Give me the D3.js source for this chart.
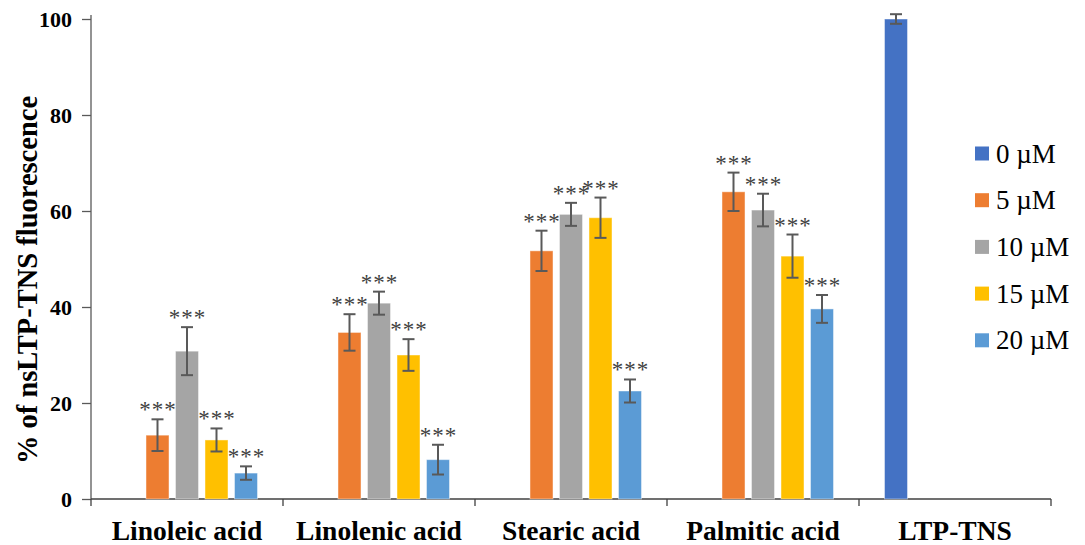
<!DOCTYPE html>
<html>
<head>
<meta charset="utf-8">
<script src="https://cdn.jsdelivr.net/npm/d3@7"></script>
<style>
  body { margin: 0; background: #fff; }
  text { font-family: "Liberation Serif", "Times New Roman", serif; }
</style>
</head>
<body>
<div id="chart"></div>
<script>
// data
var categories = ["Linoleic acid", "Linolenic acid", "Stearic acid", "Palmitic acid", "LTP-TNS"];
var series = ["0 \u00B5M", "5 \u00B5M", "10 \u00B5M", "15 \u00B5M", "20 \u00B5M"];
var colors = ["#4472C4", "#ED7D31", "#A5A5A5", "#FFC000", "#5B9BD5"];

// one row per category, one value per series (null = no bar)
var values = [
  [null, 13.3, 30.8, 12.3, 5.4],
  [null, 34.7, 40.8, 30.0, 8.2],
  [null, 51.7, 59.3, 58.6, 22.5],
  [null, 64.0, 60.2, 50.6, 39.6],
  [100, null, null, null, null]
];
var errors = [
  [null, 3.3, 5.0, 2.4, 1.4],
  [null, 3.8, 2.4, 3.3, 3.1],
  [null, 4.2, 2.4, 4.2, 2.4],
  [null, 4.0, 3.4, 4.5, 2.9],
  [1.0, null, null, null, null]
];
var stars = [
  [false, true, true, true, true],
  [false, true, true, true, true],
  [false, true, true, true, true],
  [false, true, true, true, true],
  [false, false, false, false, false]
];
var yTicks = [0, 20, 40, 60, 80, 100];

var W = 1085, H = 545;
var mLeft = 91, mRight = 1051, mTop = 19, mBottom = 499;

var svg = d3.select("#chart").append("svg")
  .attr("width", W)
  .attr("height", H);

var x0 = d3.scaleBand().domain(categories).range([mLeft, mRight]).padding(0);
var x1 = d3.scaleBand().domain(d3.range(series.length))
  .range([22.25, x0.bandwidth() - 22.25]).paddingInner(0.22).paddingOuter(0.11);
var y = d3.scaleLinear().domain([0, 100]).range([mBottom, mTop]);

// y axis
var yAxis = svg.append("g")
  .attr("transform", "translate(" + mLeft + ",0)")
  .call(d3.axisLeft(y).tickValues(yTicks).tickSize(9).tickPadding(10).tickSizeOuter(0));
yAxis.select(".domain").attr("stroke", "#595959").attr("stroke-width", 1.3)
  .attr("d", "M0," + mBottom + "V" + (mTop - 4));
yAxis.selectAll(".tick line").attr("stroke", "#595959").attr("stroke-width", 1.3);
yAxis.selectAll(".tick text")
  .attr("fill", "#000")
  .style("font-family", "'Liberation Serif', serif")
  .style("font-size", "22px")
  .style("font-weight", "bold");

// x axis with ticks at category boundaries
svg.append("line")
  .attr("x1", mLeft).attr("x2", mRight)
  .attr("y1", mBottom).attr("y2", mBottom)
  .attr("stroke", "#404040").attr("stroke-width", 1.3);
var bounds = categories.map(function(c) { return x0(c); }).concat([mRight]);
svg.selectAll(".xtick").data(bounds).enter().append("line")
  .attr("x1", function(d) { return d; }).attr("x2", function(d) { return d; })
  .attr("y1", mBottom).attr("y2", mBottom + 7)
  .attr("stroke", "#404040").attr("stroke-width", 1.3);
svg.selectAll(".xlab").data(categories).enter().append("text")
  .attr("x", function(d) { return x0(d) + x0.bandwidth() / 2; })
  .attr("y", 540)
  .attr("text-anchor", "middle")
  .style("font-size", "27.5px")
  .style("font-weight", "bold")
  .text(function(d) { return d; });

// y title
svg.append("text")
  .attr("transform", "translate(37,280) rotate(-90)")
  .attr("text-anchor", "middle")
  .style("font-size", "28.5px")
  .style("font-weight", "bold")
  .text("% of nsLTP-TNS fluorescence");

// flatten into bar records
var bars = [];
categories.forEach(function(c, ci) {
  series.forEach(function(s, si) {
    if (values[ci][si] != null) {
      bars.push({cat: c, si: si, v: values[ci][si], e: errors[ci][si], star: stars[ci][si]});
    }
  });
});

var g = svg.append("g");
g.selectAll("rect").data(bars).enter().append("rect")
  .attr("x", function(d) { return x0(d.cat) + x1(d.si); })
  .attr("y", function(d) { return y(d.v); })
  .attr("width", x1.bandwidth())
  .attr("height", function(d) { return mBottom - y(d.v); })
  .attr("fill", function(d) { return colors[d.si]; })
  .attr("stroke", "rgba(255,255,255,0.45)")
  .attr("stroke-width", 1);

// error bars
var eb = g.selectAll(".err").data(bars).enter().append("g")
  .attr("transform", function(d) { return "translate(" + (x0(d.cat) + x1(d.si) + x1.bandwidth() / 2) + ",0)"; });
eb.append("line")
  .attr("y1", function(d) { return y(d.v + d.e); })
  .attr("y2", function(d) { return y(d.v - d.e); })
  .attr("stroke", "#595959").attr("stroke-width", 2);
eb.append("line")
  .attr("x1", -6).attr("x2", 6)
  .attr("y1", function(d) { return y(d.v + d.e); })
  .attr("y2", function(d) { return y(d.v + d.e); })
  .attr("stroke", "#595959").attr("stroke-width", 2);
eb.append("line")
  .attr("x1", -6).attr("x2", 6)
  .attr("y1", function(d) { return y(d.v - d.e); })
  .attr("y2", function(d) { return y(d.v - d.e); })
  .attr("stroke", "#595959").attr("stroke-width", 2);
eb.filter(function(d) { return d.star; }).append("text")
  .attr("y", function(d) { return y(d.v + d.e) - 2; })
  .attr("dx", 0.5)
  .attr("text-anchor", "middle")
  .attr("fill", "#404040")
  .style("font-size", "23px")
  .style("letter-spacing", "1px")
  .text("***");

// legend
var leg = svg.selectAll(".leg").data(series).enter().append("g")
  .attr("transform", function(d, i) { return "translate(975," + (153.5 + i * 46.7) + ")"; });
leg.append("rect")
  .attr("x", 0).attr("y", -7).attr("width", 14).attr("height", 14)
  .attr("fill", function(d, i) { return colors[i]; });
leg.append("text")
  .attr("x", 21).attr("y", 9)
  .attr("fill", "#000")
  .style("font-size", "27px")
  .text(function(d) { return d; });
</script>
</body>
</html>
